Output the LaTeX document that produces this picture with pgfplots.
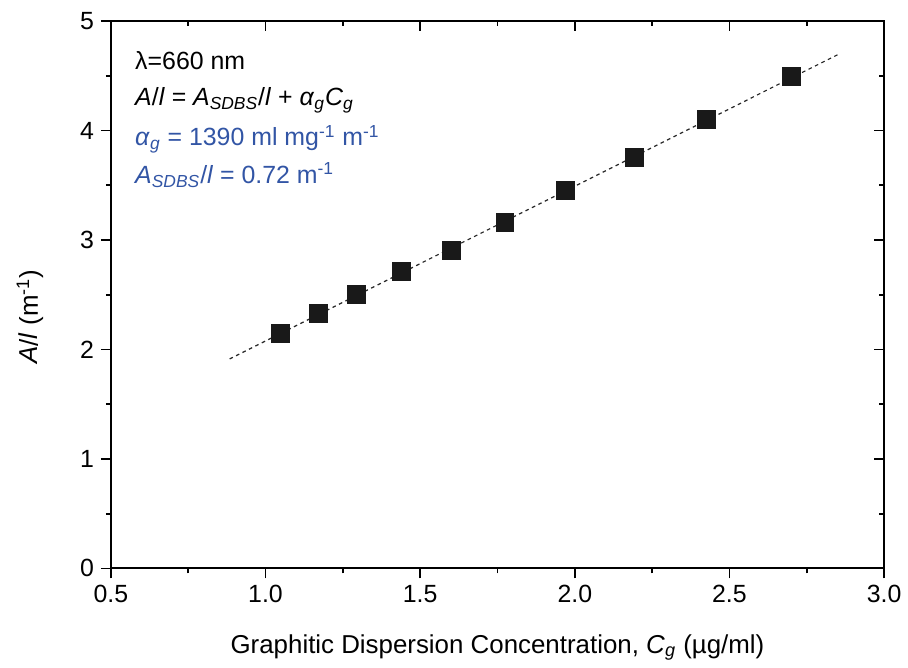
\documentclass[border=0pt]{standalone}
\usepackage{fontspec}
\setmainfont{Liberation Sans}
\usepackage{pgfplots}
\pgfplotsset{compat=1.18}
\definecolor{annblue}{RGB}{50,85,165}

\pgfplotsset{
  frame/.style={
    width=387bp, height=274bp, scale only axis,
    xmin=0.5, xmax=3.0, ymin=0, ymax=5,
    xtick={0.5,1.0,1.5,2.0,2.5,3.0}, ytick={0,1,2,3,4,5},
    minor x tick num=1, minor y tick num=1,
    major tick length=5bp, minor tick length=2.5bp,
    axis line style={line width=1bp},
    every tick/.style={black, line width=0.9bp},
    /pgf/number format/assume math mode=true,
    tick label style={font=\fontsize{12.5}{14}\selectfont},
  }
}

\begin{document}
\begin{tikzpicture}
  % ticks on top and right, pointing inward
  \begin{axis}[frame, tick align=inside, tick pos=right,
      xticklabels={}, yticklabels={}]
  \end{axis}
  \begin{axis}[frame, tick align=outside, tick pos=left, clip=false,
      xticklabel style={/pgf/number format/.cd, fixed, fixed zerofill, precision=1},
      xlabel={Graphitic Dispersion Concentration, \textit{C}\textsubscript{\textit{g}} (µg/ml)},
      ylabel={\textit{A}/\textit{l} (m\textsuperscript{-1})},
      label style={font=\fontsize{13}{15}\selectfont},
      xlabel style={at={(axis description cs:0.5,-0.155)}, anchor=base},
      ylabel style={at={(axis description cs:-0.1047,0.46)}, anchor=center},
    ]
    \path (rel axis cs:-0.1434,-0.1697) rectangle (rel axis cs:1.0297,1.0383);

    % linear fit
    \addplot[black!85, line width=0.6bp, dash pattern=on 1.8bp off 1.8bp]
      coordinates {(0.884,1.913) (2.855,4.699)};

    % measured points
    \addplot[only marks, mark=square*, mark size=4.5bp,
      mark options={fill=black!90, draw=black!90}] coordinates {
      (1.049,2.144) (1.172,2.333) (1.295,2.503) (1.440,2.710)
      (1.600,2.904) (1.774,3.157) (1.969,3.449) (2.193,3.750)
      (2.427,4.097) (2.700,4.492)
    };

    \begin{scope}[every node/.style={anchor=base west, inner sep=0pt,
        font=\fontsize{12.5}{14}\selectfont}]
      \node at (axis description cs:0.031,0.912) {λ=660 nm};
      \node at (axis description cs:0.031,0.845)
        {\textit{A}/\textit{l} = \textit{A}\textsubscript{\textit{SDBS}}/\textit{l} + \textit{α}\textsubscript{\textit{g}}\textit{C}\textsubscript{\textit{g}}};
      \node[text=annblue] at (axis description cs:0.031,0.772)
        {\textit{α}\textsubscript{\textit{g}} = 1390 ml mg\textsuperscript{-1} m\textsuperscript{-1}};
      \node[text=annblue] at (axis description cs:0.031,0.703)
        {\textit{A}\textsubscript{\textit{SDBS}}/\textit{l} = 0.72 m\textsuperscript{-1}};
    \end{scope}
  \end{axis}
\end{tikzpicture}
\end{document}
